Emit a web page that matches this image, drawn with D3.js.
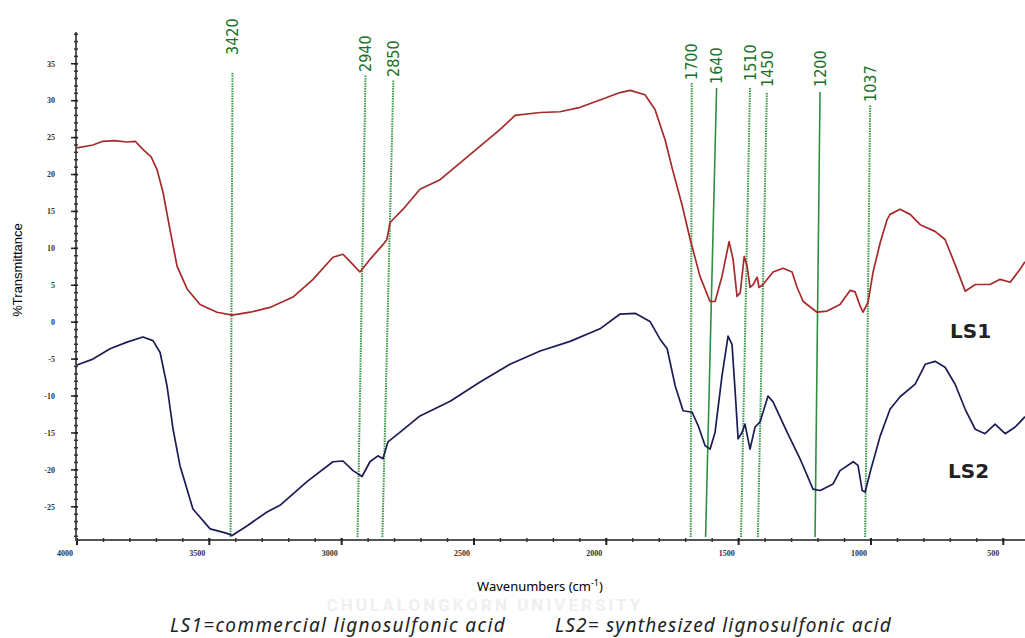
<!DOCTYPE html>
<html>
<head>
<meta charset="utf-8">
<script src="https://cdn.jsdelivr.net/npm/d3@7"></script>
<style>
	body { margin: 0; background: #fff; }
	svg { display: block; }
</style>
</head>
<body>
<div id="chart"></div>
<script>

// data (wavenumber in cm-1, %T)
var ls1Wave = [4000,3940,3902,3860,3811,3780,3751,3720,3698,3675,3649,3622,3584,3535,3471,3414,3346,3271,3184,3108,3033,2995,2968,2931,2893,2844,2829,2817,2768,2704,2628,2515,2401,2345,2250,2175,2099,2024,1948,1910,1854,1816,1778,1750,1714,1683,1646,1608,1589,1563,1536,1521,1506,1494,1479,1468,1457,1445,1430,1423,1408,1370,1332,1298,1279,1256,1204,1166,1117,1079,1060,1041,1030,1011,992,965,939,928,890,852,814,758,720,682,644,606,550,512,474,436,418];
var ls1T = [23.6,24.0,24.5,24.6,24.4,24.5,23.4,22.4,20.7,17.6,12.6,7.6,4.5,2.4,1.35,0.95,1.35,2.0,3.4,5.8,8.8,9.2,8.2,6.8,8.5,10.5,11.2,13.5,15.3,18.0,19.3,22.7,26.1,28.0,28.4,28.5,29.1,30.1,31.1,31.4,30.8,28.8,24.7,20.7,15.9,11.2,6.2,2.8,2.8,6.2,10.9,8.5,3.5,4.0,8.9,7.6,4.7,5.1,6.1,4.7,5.1,6.8,7.3,6.8,4.7,2.8,1.35,1.5,2.4,4.3,4.1,2.2,1.35,2.7,6.8,10.8,13.9,14.6,15.3,14.6,13.2,12.3,11.2,7.8,4.2,5.1,5.1,5.8,5.4,7.2,8.2];

var ls2Wave = [4000,3940,3875,3811,3751,3713,3686,3660,3637,3611,3562,3497,3433,3414,3358,3282,3233,3131,3033,2995,2957,2923,2893,2863,2844,2825,2779,2704,2590,2477,2364,2250,2137,2024,1948,1891,1835,1797,1770,1740,1710,1676,1653,1627,1608,1589,1563,1540,1525,1513,1502,1487,1476,1457,1438,1419,1389,1370,1317,1268,1219,1192,1143,1117,1067,1049,1033,1022,1003,965,928,890,833,795,758,720,682,644,606,569,531,493,455,418];
var ls2T = [-5.8,-5.0,-3.6,-2.7,-2.0,-2.5,-4.1,-8.6,-14.5,-19.4,-25.3,-28.0,-28.6,-28.9,-27.6,-25.7,-24.8,-21.6,-18.9,-18.8,-20.1,-20.9,-18.9,-18.1,-18.5,-16.2,-14.9,-12.7,-10.7,-8.1,-5.7,-3.9,-2.6,-0.9,1.1,1.2,0.1,-2.3,-3.6,-8.6,-12.0,-12.2,-14.0,-16.7,-17.2,-14.9,-7.3,-1.9,-3.0,-9.5,-15.8,-14.9,-13.8,-17.2,-14.2,-13.5,-10.0,-10.8,-14.9,-18.5,-22.6,-22.8,-21.9,-20.1,-18.9,-19.4,-22.8,-23.0,-20.3,-15.4,-11.8,-10.1,-8.4,-5.7,-5.3,-6.1,-8.4,-11.8,-14.5,-15.1,-13.8,-15.1,-14.2,-12.8];

var peakWave = [3420, 2940, 2850, 1700, 1640, 1510, 1450, 1200, 1037];
var xMajor = [4000, 3500, 3000, 2500, 2000, 1500, 1000, 500];
var yMajor = [35, 30, 25, 20, 15, 10, 5, 0, -5, -10, -15, -20, -25];

var width = 1025,
	height = 638;

var svg = d3.select("#chart")
			.append("svg")
			.attr("width", width)
			.attr("height", height);

var x = d3.scaleLinear().domain([4000, 418]).range([77, 1025]);
var y = d3.scaleLinear().domain([-29.5, 39.3]).range([540, 32]);

// faint watermark between the axis title and the caption
svg.append("text")
	.attr("x", 485).attr("y", 611)
	.attr("text-anchor", "middle")
	.style("font-family", "Roboto, 'DejaVu Sans', sans-serif")
	.style("font-weight", "bold")
	.style("font-size", "17px")
	.style("letter-spacing", "3px")
	.style("fill", "#efefef")
	.text("CHULALONGKORN UNIVERSITY");

// peak marker lines (slightly slanted like the hand drawn ones)
var leanBottom = [0, 0, 1, 5, 4, 5, 6, -3, 4],
	leanTop = [2, 8, 12, 6, 15, 14, 15, 2, 9],
	lineTop = [72, 75, 80, 82, 88, 88, 92, 92, 105],
	labelEnd = [55, 72, 77, 80, 84, 81, 87, 87, 102],
	solid = [false, false, false, false, true, false, false, true, false];

var peaks = svg.append("g").attr("class", "peaks");
peakWave.forEach(function(w, i) {
	peaks.append("line")
		.attr("x1", x(w) + leanBottom[i]).attr("y1", 537)
		.attr("x2", x(w) + leanTop[i]).attr("y2", lineTop[i])
		.style("stroke", solid[i] ? "#2f8f40" : "#3a9a4a")
		.style("stroke-width", solid[i] ? 1.6 : 2)
		.style("stroke-dasharray", solid[i] ? null : "1.5,1");
	peaks.append("text")
		.attr("transform", "translate(" + (x(w) + leanTop[i]) + "," + labelEnd[i] + ") rotate(-90)")
		.attr("dy", "0.36em")
		.style("font-family", "'DejaVu Sans Condensed', 'DejaVu Sans', sans-serif")
		.style("font-size", "16px")
		.style("fill", "#1b7029")
		.text(w);
});

// axes
var xAxis = svg.append("g").attr("transform", "translate(0,540)");
xAxis.append("line")
	.attr("x1", 77).attr("x2", 1025)
	.style("stroke", "#555").style("stroke-width", 2);
xAxis.selectAll(".minor")
	.data(d3.range(4000, 418, -100))
	.enter().append("line")
	.attr("x1", function(d){ return x(d) }).attr("x2", function(d){ return x(d) })
	.attr("y1", -2).attr("y2", 2)
	.style("stroke", "#333").style("stroke-width", 1.5);
xAxis.selectAll(".major")
	.data(xMajor)
	.enter().append("line")
	.attr("x1", function(d){ return x(d) }).attr("x2", function(d){ return x(d) })
	.attr("y1", -2).attr("y2", 5)
	.style("stroke", "#222").style("stroke-width", 2);
xAxis.selectAll(".xlab")
	.data(xMajor)
	.enter().append("text")
	.attr("x", function(d){ return x(d) - 4 })
	.attr("y", 16)
	.attr("text-anchor", "end")
	.style("font-family", "'Liberation Serif', serif")
	.style("font-weight", "bold")
	.style("font-size", "8px")
	.style("fill", "#333")
	.text(function(d){ return d });

var yAxis = svg.append("g").attr("transform", "translate(76,0)");
yAxis.append("line")
	.attr("y1", 32).attr("y2", 541)
	.style("stroke", "#555").style("stroke-width", 2);
yAxis.selectAll(".minor")
	.data(d3.range(-29, 40, 1))
	.enter().append("line")
	.attr("y1", function(d){ return y(d) }).attr("y2", function(d){ return y(d) })
	.attr("x1", -2).attr("x2", 2)
	.style("stroke", "#333").style("stroke-width", 1.5);
yAxis.selectAll(".major")
	.data(yMajor)
	.enter().append("line")
	.attr("y1", function(d){ return y(d) }).attr("y2", function(d){ return y(d) })
	.attr("x1", -5).attr("x2", 2)
	.style("stroke", "#222").style("stroke-width", 1.5);
yAxis.selectAll(".ylab")
	.data(yMajor)
	.enter().append("text")
	.attr("x", -21)
	.attr("y", function(d){ return y(d) })
	.attr("dy", "0.35em")
	.attr("text-anchor", "end")
	.style("font-family", "'Liberation Serif', serif")
	.style("font-weight", "bold")
	.style("font-size", "8px")
	.style("fill", "#333")
	.text(function(d){ return d });

// spectra
var line = d3.line()
	.x(function(d){ return x(d[0]) })
	.y(function(d){ return y(d[1]) });

var ls1 = ls1Wave.map(function(w, i){ return [w, ls1T[i]] });
var ls2 = ls2Wave.map(function(w, i){ return [w, ls2T[i]] });

svg.append("path")
	.datum(ls1)
	.attr("d", line)
	.style("fill", "none")
	.style("stroke", "#a52a2a")
	.style("stroke-width", 1.7)
	.style("stroke-linejoin", "round");

svg.append("path")
	.datum(ls2)
	.attr("d", line)
	.style("fill", "none")
	.style("stroke", "#1c1c55")
	.style("stroke-width", 1.7)
	.style("stroke-linejoin", "round");

// series names
svg.append("text")
	.attr("x", 950).attr("y", 338)
	.style("font-family", "'DejaVu Sans', sans-serif")
	.style("font-weight", "bold")
	.style("font-size", "20px")
	.style("fill", "#222")
	.text("LS1");
svg.append("text")
	.attr("x", 948).attr("y", 478)
	.style("font-family", "'DejaVu Sans', sans-serif")
	.style("font-weight", "bold")
	.style("font-size", "20px")
	.style("fill", "#222")
	.text("LS2");

// axis titles
svg.append("text")
	.attr("transform", "translate(22,270) rotate(-90)")
	.attr("text-anchor", "middle")
	.style("font-family", "'Liberation Sans', Arial, sans-serif")
	.style("font-size", "13px")
	.text("%Transmittance");

var xt = svg.append("text")
	.attr("x", 540).attr("y", 591)
	.attr("text-anchor", "middle")
	.style("font-family", "'Noto Sans', sans-serif")
	.style("font-size", "13px");
xt.append("tspan").text("Wavenumbers (cm");
xt.append("tspan").attr("dy", -5).style("font-size", "9px").text("-1");
xt.append("tspan").attr("dy", 5).text(")");

// caption
svg.append("text")
	.attr("x", 170).attr("y", 632)
	.style("font-family", "'Noto Sans', sans-serif")
	.style("font-style", "italic")
	.style("font-size", "19px")
	.style("letter-spacing", "1.35px")
	.style("fill", "#222")
	.text("LS1=commercial lignosulfonic acid");
svg.append("text")
	.attr("x", 555).attr("y", 632)
	.style("font-family", "'Noto Sans', sans-serif")
	.style("font-style", "italic")
	.style("font-size", "19px")
	.style("letter-spacing", "1.2px")
	.style("fill", "#222")
	.text("LS2= synthesized lignosulfonic acid");

</script>
</body>
</html>
